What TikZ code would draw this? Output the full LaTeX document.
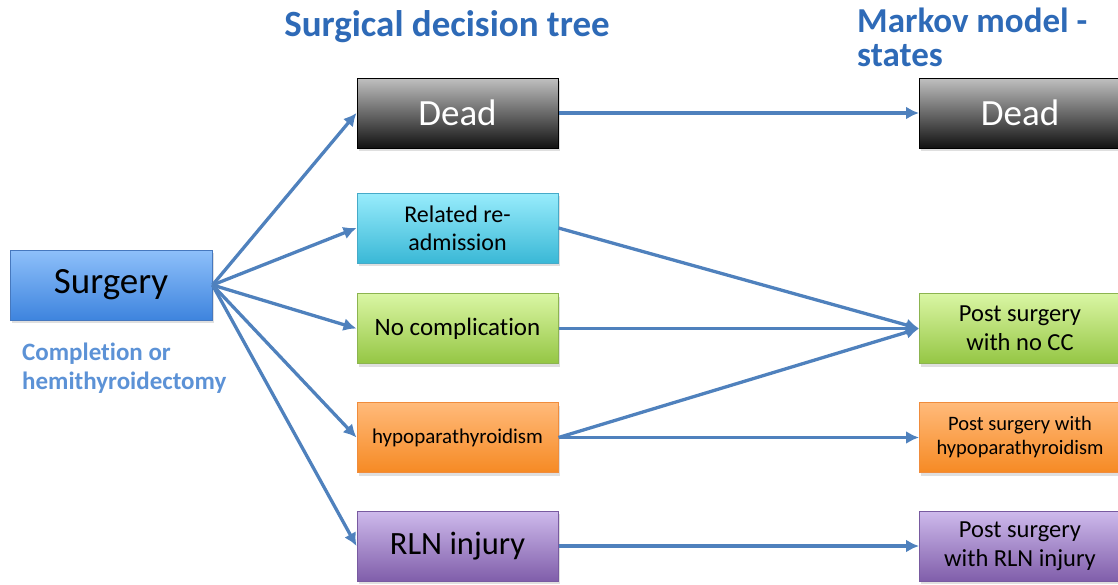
\documentclass[tikz,border=0pt]{standalone}
\usepackage{fontspec}
\setmainfont{Carlito}[Ligatures=NoCommon]
\usetikzlibrary{arrows.meta,shadows}
\definecolor{arrowblue}{RGB}{79,129,189}
\definecolor{titleblue}{RGB}{46,106,183}
\definecolor{subblue}{RGB}{92,146,214}
\definecolor{surgtop}{RGB}{142,192,250}
\definecolor{surgbot}{RGB}{62,132,222}
\definecolor{surgline}{RGB}{70,120,190}
\definecolor{deadtop}{RGB}{192,192,192}
\definecolor{deadbot}{RGB}{18,18,18}
\definecolor{cyantop}{RGB}{152,236,252}
\definecolor{cyanbot}{RGB}{58,184,214}
\definecolor{cyanline}{RGB}{70,170,200}
\definecolor{greentop}{RGB}{218,246,164}
\definecolor{greenbot}{RGB}{148,198,68}
\definecolor{greenline}{RGB}{140,180,80}
\definecolor{orangetop}{RGB}{255,186,122}
\definecolor{orangebot}{RGB}{246,138,36}
\definecolor{orangeline}{RGB}{240,140,60}
\definecolor{purpletop}{RGB}{206,186,236}
\definecolor{purplebot}{RGB}{128,94,170}
\definecolor{purpleline}{RGB}{120,90,160}
\newcommand{\fs}[2]{\fontsize{#1}{#2}\selectfont}

\begin{document}
\begin{tikzpicture}[x=1pt, y=-1pt, >={Latex[length=13pt,width=13pt]},
  box/.style={draw, line width=1pt, align=center, minimum width=201pt, minimum height=70pt, inner sep=2pt,
    drop shadow={shadow xshift=1.5pt, shadow yshift=-3pt, opacity=0.25}},
  dead/.style={box, draw=black, top color=deadtop, bottom color=deadbot, text=white, font=\fs{37}{44}},
  cyan/.style={box, draw=cyanline, top color=cyantop, bottom color=cyanbot},
  green/.style={box, draw=greenline, top color=greentop, bottom color=greenbot},
  orange/.style={box, draw=orangeline, top color=orangetop, bottom color=orangebot},
  purple/.style={box, draw=purpleline, top color=purpletop, bottom color=purplebot},
  link/.style={->, line width=3.3pt, arrowblue},
  title/.style={text=titleblue, inner sep=0pt}]
\useasboundingbox (0,0) rectangle (1118,584);

% titles
\node[title, font=\bfseries\fs{37}{40}] (ttree) at (447,27) {Surgical decision tree};
\node[title, font=\bfseries\fs{35}{34}, align=left, anchor=north west] (tmarkov) at (857,8) {Markov model -\\states};

% decision tree
\node[box, draw=surgline, top color=surgtop, bottom color=surgbot, minimum width=202pt, font=\fs{37}{44}] (surg) at (111,285) {Surgery};
\node[text=subblue, font=\bfseries\fs{25}{29}, align=left, anchor=west, inner sep=0pt] (proc) at (22,368) {Completion or\\hemithyroidectomy};

\node[dead] (dead) at (457.5,113) {Dead};
\node[cyan, font=\fs{24}{28}] (readm) at (457.5,228) {Related re-\\admission};
\node[green, font=\fs{25}{28}] (nocomp) at (457.5,328.5) {No complication};
\node[orange, font=\fs{21}{24}] (hypo) at (457.5,437.5) {hypoparathyroidism};
\node[purple, font=\fs{32.5}{36}] (rln) at (457.5,546) {RLN injury};

% markov states
\node[dead] (mdead) at (1020,113) {Dead};
\node[green, font=\fs{24.5}{29}] (mnocc) at (1020,328.5) {Post surgery\\with no CC};
\node[orange, font=\fs{20.5}{24}] (mhypo) at (1020,437.5) {Post surgery with\\hypoparathyroidism};
\node[purple, font=\fs{24.5}{29}] (mrln) at (1020,546) {Post surgery\\with RLN injury};

% branches
\draw[link] (surg.east) -- (dead.west);
\draw[link] (surg.east) -- (readm.west);
\draw[link] (surg.east) -- (nocomp.west);
\draw[link] (surg.east) -- (hypo.west);
\draw[link] (surg.east) -- (rln.west);

% transitions
\draw[link] (dead.east) -- (mdead.west);
\draw[link] (readm.east) -- (mnocc.west);
\draw[link] (nocomp.east) -- (mnocc.west);
\draw[link] (hypo.east) -- (mnocc.west);
\draw[link] (hypo.east) -- (mhypo.west);
\draw[link] (rln.east) -- (mrln.west);
\end{tikzpicture}
\end{document}
